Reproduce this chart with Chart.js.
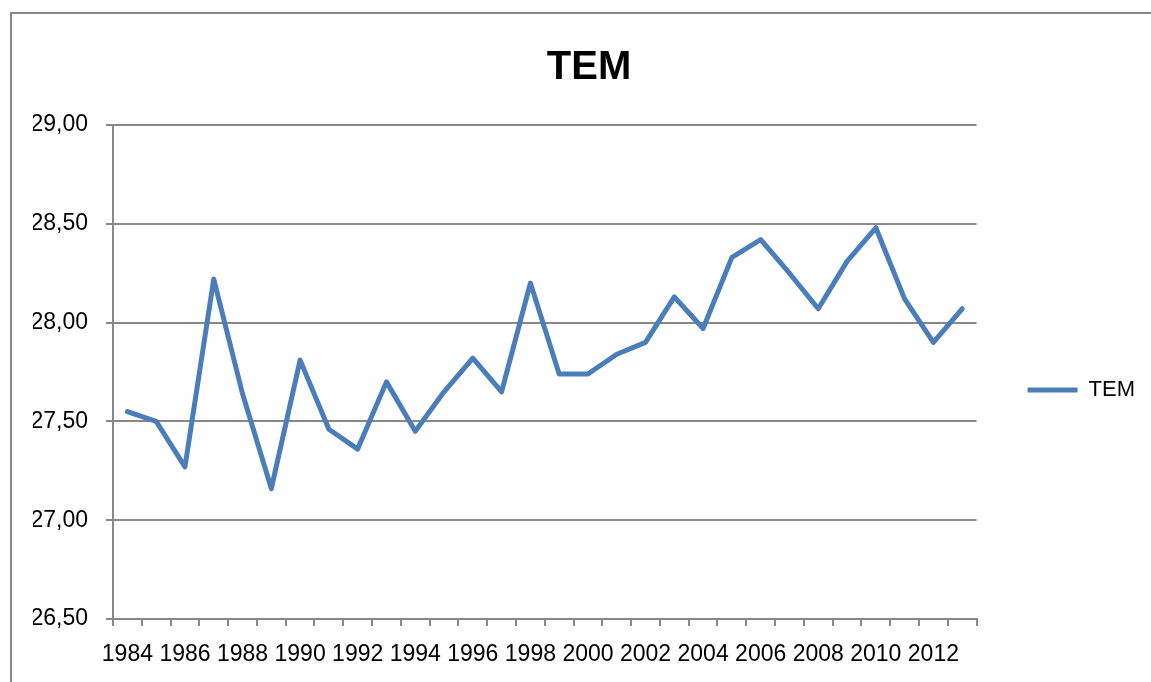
<!DOCTYPE html>
<html>
<head>
<meta charset="utf-8">
<script src="https://cdn.jsdelivr.net/npm/chart.js@4/dist/chart.umd.min.js"></script>
<style>
  html, body { margin: 0; padding: 0; background: #fff; overflow: hidden; }
  #wrap { position: relative; width: 1151px; height: 682px; }
  #frame { position: absolute; left: 10px; top: 12px; width: 1300px; height: 800px;
           border: 2px solid #888888; box-sizing: border-box; pointer-events: none; }
  canvas { position: absolute; left: 0; top: 0; }
</style>
</head>
<body>
<div id="wrap">
  <canvas id="c" width="1151" height="682"></canvas>
  <div id="frame"></div>
</div>
<script>
const chartTitle = 'TEM';
const seriesName = 'TEM';
const years = ['1984','1985','1986','1987','1988','1989','1990','1991','1992','1993',
               '1994','1995','1996','1997','1998','1999','2000','2001','2002','2003',
               '2004','2005','2006','2007','2008','2009','2010','2011','2012','2013'];
const temValues = [27.55, 27.50, 27.27, 28.22, 27.64, 27.16, 27.81, 27.46, 27.36, 27.70,
                   27.45, 27.65, 27.82, 27.65, 28.20, 27.74, 27.74, 27.84, 27.90, 28.13,
                   27.97, 28.33, 28.42, 28.25, 28.07, 28.31, 28.48, 28.12, 27.90, 28.07];
const yMin = 26.5, yMax = 29.0, yStep = 0.5;

const FONT = "'Liberation Sans', Arial, sans-serif";
const GRID = '#888888';

const legendShift = {
  id: 'legendShift',
  afterLayout(chart) {
    if (chart.legend) { chart.legend.top += 49; chart.legend.bottom += 49; }
  }
};

new Chart(document.getElementById('c'), {
  type: 'line',
  data: {
    labels: years,
    datasets: [{
      label: seriesName,
      data: temValues,
      borderColor: '#4A7EBB',
      backgroundColor: '#4A7EBB',
      borderWidth: 5,
      borderCapStyle: 'round',
      borderJoinStyle: 'round',
      pointRadius: 0,
      pointHoverRadius: 0,
      pointStyle: 'line',
      tension: 0,
      fill: false
    }]
  },
  options: {
    responsive: false,
    animation: false,
    devicePixelRatio: 1,
    layout: { padding: { left: 33, right: 6, top: 0, bottom: 0 } },
    plugins: {
      title: {
        display: true,
        text: chartTitle,
        color: '#000',
        font: { family: FONT, size: 40, weight: 'bold', lineHeight: 1.2 },
        padding: { top: 44, bottom: 33 }
      },
      legend: {
        position: 'right',
        align: 'center',
        labels: {
          color: '#000',
          font: { family: FONT, size: 22 },
          usePointStyle: true,
          pointStyleWidth: 50,
          padding: 51
        }
      },
      tooltip: { enabled: false }
    },
    scales: {
      x: {
        type: 'category',
        offset: true,
        afterFit: function(scale) { scale.height = 63; },
        grid: {
          offset: true,
          drawOnChartArea: false,
          drawTicks: true,
          tickLength: 7,
          color: GRID,
          lineWidth: 2
        },
        border: { display: true, color: GRID, width: 2 },
        ticks: {
          autoSkip: false,
          maxRotation: 0,
          minRotation: 0,
          padding: 15,
          color: '#000',
          font: { family: FONT, size: 23 },
          callback: function(value, index) { return index % 2 === 0 ? years[index] : ''; }
        }
      },
      y: {
        min: yMin,
        max: yMax,
        afterFit: function(scale) { scale.width = 80; },
        grid: {
          color: GRID,
          lineWidth: 2,
          drawTicks: true,
          tickLength: 7
        },
        border: { display: true, color: GRID, width: 2 },
        ticks: {
          stepSize: yStep,
          padding: 18,
          color: '#000',
          font: { family: FONT, size: 23 },
          callback: function(v) { return Number(v).toFixed(2).replace('.', ','); }
        }
      }
    }
  },
  plugins: [legendShift]
});
</script>
</body>
</html>
